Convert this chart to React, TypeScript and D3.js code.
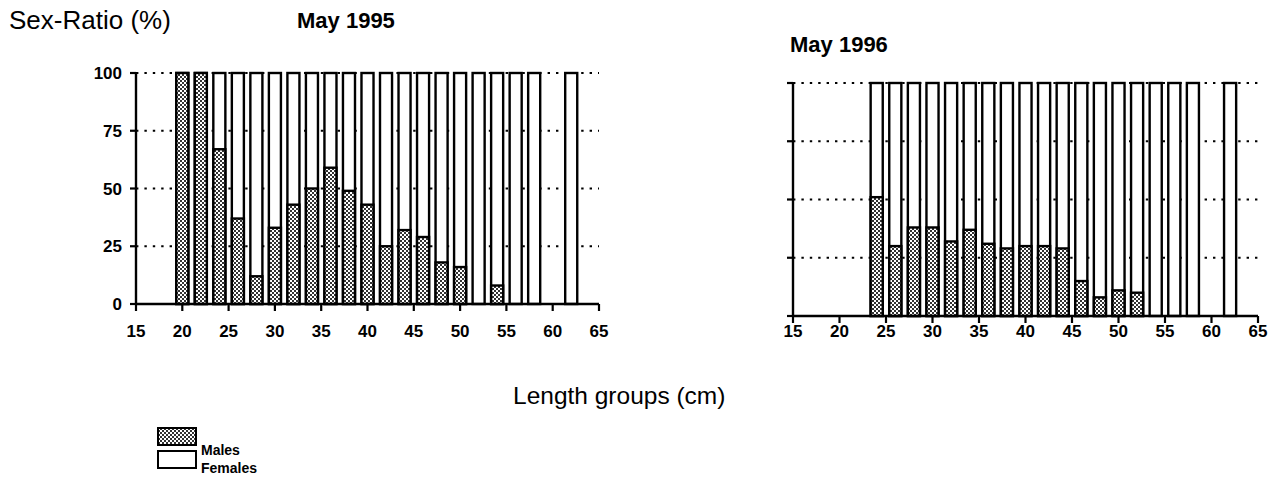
import React from "react";
import * as d3 from "d3";

// Length classes (cm) and male share (%) for each survey
const lengths1995 = [20, 22, 24, 26, 28, 30, 32, 34, 36, 38, 40, 42, 44, 46, 48, 50, 52, 54, 56, 58, 62];
const males1995 = [100, 100, 67, 37, 12, 33, 43, 50, 59, 49, 43, 25, 32, 29, 18, 16, 0, 8, 0, 0, 0];

const lengths1996 = [24, 26, 28, 30, 32, 34, 36, 38, 40, 42, 44, 46, 48, 50, 52, 54, 56, 58, 62];
const males1996 = [51, 30, 38, 38, 32, 37, 31, 29, 30, 30, 29, 15, 8, 11, 10, 0, 0, 0, 0];

const xTicks = [15, 20, 25, 30, 35, 40, 45, 50, 55, 60, 65];
const yTicks = [0, 25, 50, 75, 100];
const yTickLabels = ["0", "25", "50", "75", "100"];

const FONT = "'Liberation Sans', Arial, Helvetica, sans-serif";

type PanelProps = {
  lengths: number[];
  males: number[];
  x0: number;
  x1: number;
  yTop: number;
  yBottom: number;
  showYLabels: boolean;
  xLabelBaseline: number;
};

function Panel({ lengths, males, x0, x1, yTop, yBottom, showYLabels, xLabelBaseline }: PanelProps) {
  const x = d3.scaleLinear().domain([15, 65]).range([x0, x1]);
  const y = d3.scaleLinear().domain([0, 100]).range([yBottom, yTop]);
  const barW = (x(2) - x(0)) * 0.65;

  return (
    <g>
      {/* dotted gridlines */}
      {yTicks
        .filter((t) => t > 0)
        .map((t) => (
          <line
            key={"g" + t}
            x1={x(15)}
            x2={x(65)}
            y1={y(t)}
            y2={y(t)}
            stroke="#000"
            strokeWidth={2.2}
            strokeDasharray="2.4 6"
          />
        ))}

      {/* stacked bars: females on top of males */}
      {lengths.map((L, i) => {
        const m = males[i];
        const left = x(L) - barW / 2;
        return (
          <g key={"b" + L}>
            <rect x={left} y={y(100)} width={barW} height={y(0) - y(100)} fill="#fff" stroke="#000" strokeWidth={2.4} />
            {m > 0 && (
              <rect
                x={left}
                y={y(m)}
                width={barW}
                height={y(0) - y(m)}
                fill="url(#stipple)"
                stroke="#000"
                strokeWidth={2.4}
              />
            )}
          </g>
        );
      })}

      {/* y axis */}
      <line x1={x(15)} x2={x(15)} y1={y(0)} y2={y(100)} stroke="#000" strokeWidth={2.4} />
      {yTicks.map((t, i) => (
        <g key={"yt" + t}>
          <line x1={x(15) - 6} x2={x(15)} y1={y(t)} y2={y(t)} stroke="#000" strokeWidth={2.2} />
          {showYLabels && (
            <text
              x={x(15) - 14}
              y={y(t)}
              dy="0.36em"
              textAnchor="end"
              fontFamily={FONT}
              fontWeight="bold"
              fontSize={17}
            >
              {yTickLabels[i]}
            </text>
          )}
        </g>
      ))}

      {/* x axis */}
      <line x1={x(15)} x2={x(65)} y1={y(0)} y2={y(0)} stroke="#000" strokeWidth={2.4} />
      {xTicks.map((t) => (
        <g key={"xt" + t}>
          <line x1={x(t)} x2={x(t)} y1={y(0)} y2={y(0) + 7} stroke="#000" strokeWidth={2.2} />
          <text x={x(t)} y={xLabelBaseline} textAnchor="middle" fontFamily={FONT} fontWeight="bold" fontSize={17}>
            {t}
          </text>
        </g>
      ))}
    </g>
  );
}

export default function App() {
  return (
    <svg
      width={1276}
      height={477}
      style={{ position: "absolute", left: 0, top: 0, background: "#fff" }}
      xmlns="http://www.w3.org/2000/svg"
    >
      <defs>
        <pattern id="stipple" width={4} height={4} patternUnits="userSpaceOnUse">
          <rect width={4} height={4} fill="#fff" />
          <rect x={0} y={0} width={2} height={2} fill="#333" />
          <rect x={2} y={2} width={2} height={2} fill="#333" />
        </pattern>
      </defs>
      <rect width={1276} height={477} fill="#fff" />

      <text x={9} y={29} fontFamily={FONT} fontSize={26}>
        Sex-Ratio (%)
      </text>
      <text x={297} y={28} fontFamily={FONT} fontSize={22} fontWeight="bold">
        May 1995
      </text>
      <text x={790} y={52} fontFamily={FONT} fontSize={22} fontWeight="bold">
        May 1996
      </text>

      <Panel
        lengths={lengths1995}
        males={males1995}
        x0={136}
        x1={599}
        yTop={73}
        yBottom={304}
        showYLabels={true}
        xLabelBaseline={337}
      />
      <Panel
        lengths={lengths1996}
        males={males1996}
        x0={793}
        x1={1258}
        yTop={83}
        yBottom={316}
        showYLabels={false}
        xLabelBaseline={337}
      />

      <text x={513} y={404} fontFamily={FONT} fontSize={24.5}>
        Length groups (cm)
      </text>

      {/* legend */}
      <rect x={158} y={428} width={38} height={17} fill="url(#stipple)" stroke="#000" strokeWidth={2} />
      <text x={201} y={455} fontFamily={FONT} fontSize={14} fontWeight="bold">
        Males
      </text>
      <rect x={158} y={451} width={38} height={17} fill="#fff" stroke="#000" strokeWidth={2} />
      <text x={201} y={473} fontFamily={FONT} fontSize={14} fontWeight="bold">
        Females
      </text>
    </svg>
  );
}
